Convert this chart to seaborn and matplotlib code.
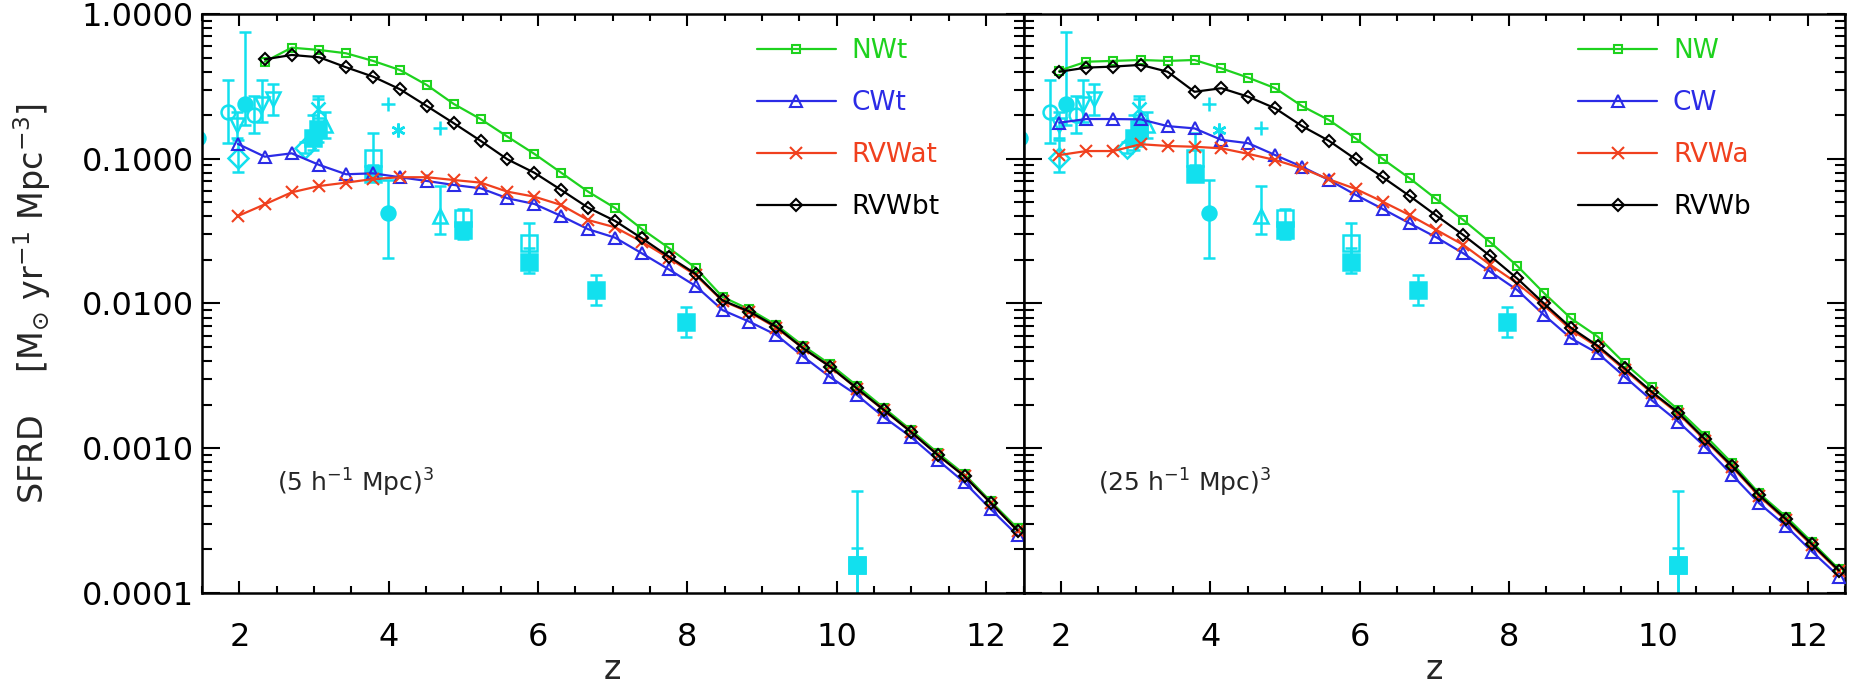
import numpy as np
import matplotlib
matplotlib.use("Agg")
import matplotlib.pyplot as plt
from matplotlib.ticker import MultipleLocator, LogLocator, FixedLocator, FuncFormatter, NullFormatter
import seaborn as sns

# simulation output redshifts
z_sim = [1.98, 2.34, 2.70, 3.07, 3.43, 3.79, 4.15, 4.51, 4.87, 5.23, 5.59, 5.95, 6.31, 6.67, 7.03,
         7.39, 7.75, 8.11, 8.47, 8.83, 9.19, 9.55, 9.91, 10.27, 10.63, 10.99, 11.35, 11.71, 12.06, 12.42]

# left panel, (5 h^-1 Mpc)^3 runs (NWt and RVWbt start at the 2nd output)
nwt = [0.468, 0.585, 0.564, 0.535, 0.474, 0.410, 0.323, 0.239, 0.188, 0.142, 0.108, 0.080, 0.0592,
       0.0457, 0.0327, 0.0242, 0.0176, 0.0111, 0.0091, 0.0071, 0.0051, 0.0038, 0.0027, 0.0019,
       0.00134, 0.00093, 0.00066, 0.00043, 0.00028]
cwt = [0.1265, 0.1033, 0.109, 0.0906, 0.0781, 0.0793, 0.0745, 0.0702, 0.0659, 0.0625, 0.0533, 0.0487,
       0.0402, 0.0326, 0.0285, 0.0222, 0.0172, 0.0132, 0.0090, 0.00748, 0.00606, 0.0043, 0.0031,
       0.00233, 0.00164, 0.0012, 0.00083, 0.00058, 0.00038, 0.00025]
rvwat = [0.0402, 0.0484, 0.0586, 0.0648, 0.0684, 0.0724, 0.0745, 0.0745, 0.0713, 0.0684, 0.0592, 0.0547,
         0.0479, 0.0377, 0.0336, 0.0267, 0.0206, 0.0157, 0.0104, 0.0087, 0.0068, 0.0049, 0.00365,
         0.00258, 0.00183, 0.0013, 0.0009, 0.00064, 0.00042, 0.00027]
rvwbt = [0.486, 0.521, 0.502, 0.428, 0.369, 0.302, 0.231, 0.176, 0.133, 0.099, 0.080, 0.0608, 0.0459,
         0.0372, 0.0282, 0.0211, 0.016, 0.0105, 0.0088, 0.0069, 0.0049, 0.00366, 0.00259, 0.00184,
         0.0013, 0.0009, 0.00064, 0.00042, 0.00027]

# right panel, (25 h^-1 Mpc)^3 runs
nw = [0.406, 0.468, 0.474, 0.481, 0.474, 0.481, 0.421, 0.363, 0.307, 0.231, 0.185, 0.138, 0.0996,
      0.0733, 0.0525, 0.0377, 0.0265, 0.0182, 0.0118, 0.0079, 0.0059, 0.00386, 0.00266, 0.00184,
      0.00122, 0.000787, 0.000488, 0.000337, 0.000224, 0.000146]
cw = [0.1775, 0.188, 0.188, 0.187, 0.168, 0.162, 0.135, 0.128, 0.106, 0.088, 0.0713, 0.0562, 0.045,
      0.0358, 0.0286, 0.0222, 0.0166, 0.0124, 0.00833, 0.00575, 0.00453, 0.00312, 0.00215, 0.00152,
      0.00102, 0.000653, 0.000417, 0.00029, 0.000193, 0.00013]
rvwa = [0.106, 0.113, 0.113, 0.126, 0.1225, 0.121, 0.118, 0.108, 0.098, 0.0859, 0.0721, 0.0618,
        0.0505, 0.0408, 0.0322, 0.0254, 0.0185, 0.0138, 0.0097, 0.0066, 0.0050, 0.00348, 0.00242,
        0.00173, 0.00113, 0.00074, 0.000467, 0.000318, 0.000213, 0.000141]
rvwb = [0.399, 0.426, 0.433, 0.445, 0.399, 0.290, 0.307, 0.268, 0.223, 0.168, 0.133, 0.099, 0.0745,
        0.0553, 0.0404, 0.0297, 0.0213, 0.0149, 0.0100, 0.0068, 0.0051, 0.00356, 0.00246, 0.00176,
        0.00115, 0.000754, 0.000475, 0.000324, 0.000217, 0.000143]

# observational estimates (same in both panels)
nan = np.nan
obs_z = [1.45, 1.85, 1.98, 1.97, 2.07, 2.20, 2.30, 2.45, 2.88, 2.98, 3.05, 3.05, 3.15, 3.79, 3.79,
         3.99, 3.99, 4.12, 4.68, 4.68, 5.00, 5.00, 5.88, 5.88, 6.78, 7.98, 10.27, 10.27]
obs_sfrd = [0.14, 0.21, 0.101, 0.17, 0.24, 0.20, 0.24, 0.26, 0.119, 0.14, 0.16, 0.22, 0.17, 0.101,
            0.078, 0.239, 0.042, 0.158, 0.163, 0.040, 0.039, 0.032, 0.026, 0.0194, 0.0124, 0.0075,
            0.000156, 0.000156]
obs_lo = [nan, 0.128, 0.081, 0.14, 0.17, 0.15, 0.18, 0.20, 0.11, 0.115, 0.13, 0.19, 0.14, 0.085,
          0.07, nan, 0.0205, nan, nan, 0.030, 0.034, 0.028, 0.021, 0.0163, 0.0098, 0.0059, 5e-5, 5e-5]
obs_hi = [nan, 0.35, 0.135, 0.21, 0.75, 0.27, 0.35, 0.33, 0.13, 0.20, 0.26, 0.27, 0.21, 0.15, 0.09,
          nan, 0.071, nan, nan, 0.065, 0.045, 0.036, 0.036, 0.024, 0.0158, 0.0095, 0.000503, 0.000204]
obs_marker = ['o', 'o', 'D', 'v', 'o', 'o', 'v', 'v', 'D', 's', 's', 'x', '^', 's', 's',
              '+', 'o', 'ast', '+', '^', 's', 's', 's', 's', 's', 's', 's', 's']
obs_filled = [1, 0, 0, 0, 1, 0, 0, 0, 0, 1, 1, 1, 0, 0, 1, 1, 1, 1, 1, 0, 0, 1, 0, 1, 1, 1, 1, 1]

GREEN = '#1ed21e'
BLUE = '#2b2be6'
RED = '#f0401e'
CYAN = '#12e0ee'

sns.set_style("ticks")
plt.rcParams['font.family'] = ['DejaVu Sans']
plt.rcParams['mathtext.default'] = 'regular'

fig, axes = plt.subplots(1, 2, figsize=(18.52, 6.85), dpi=100, sharey=True)
fig.subplots_adjust(left=0.1091, right=0.9962, bottom=0.1343, top=0.9796, wspace=0)

panels = [
    (axes[0], [(nwt, 'NWt', GREEN, 's'), (cwt, 'CWt', BLUE, '^'),
               (rvwat, 'RVWat', RED, 'x'), (rvwbt, 'RVWbt', 'black', 'D')],
     r'(5 h$^{-1}$ Mpc)$^3$'),
    (axes[1], [(nw, 'NW', GREEN, 's'), (cw, 'CW', BLUE, '^'),
               (rvwa, 'RVWa', RED, 'x'), (rvwb, 'RVWb', 'black', 'D')],
     r'(25 h$^{-1}$ Mpc)$^3$'),
]

msizes = {'s': 6, '^': 8.5, 'x': 8.5, 'D': 6.5}

for ax, series, box in panels:
    # observations
    for z, v, lo, hi, m, f in zip(obs_z, obs_sfrd, obs_lo, obs_hi, obs_marker, obs_filled):
        mk = (6, 2, 0) if m == 'ast' else m
        ms = 11 if m == 's' else 10
        yerr = None if np.isnan(lo) else [[v - lo], [hi - v]]
        ax.errorbar([z], [v], yerr=yerr, fmt='none', ecolor=CYAN, elinewidth=1.8,
                    capsize=4.5, capthick=1.8, zorder=2)
        ax.plot([z], [v], linestyle='none', marker=mk, ms=ms, mec=CYAN,
                mfc=CYAN if f else 'none', mew=1.8, zorder=2)
    # simulations
    for vals, lab, col, mk in series:
        zz = z_sim[-len(vals):]
        sns.lineplot(x=zz, y=vals, ax=ax, color=col, marker=mk, markersize=msizes[mk],
                     mfc='none', mec=col, mew=1.5, lw=1.6, label=lab, estimator=None,
                     sort=False, zorder=3)

    ax.set_yscale('log')
    ax.set_xlim(1.5, 12.5)
    ax.set_ylim(1e-4, 1.0)
    ax.xaxis.set_major_locator(MultipleLocator(2))
    ax.xaxis.set_minor_locator(MultipleLocator(0.5))
    ax.yaxis.set_major_locator(FixedLocator([1e-4, 1e-3, 1e-2, 1e-1, 1.0]))
    ax.yaxis.set_minor_locator(LogLocator(base=10, subs=np.arange(2, 10), numticks=20))
    ax.yaxis.set_major_formatter(FuncFormatter(lambda v, p: '%.4f' % v))
    ax.yaxis.set_minor_formatter(NullFormatter())
    ax.tick_params(axis='both', which='both', direction='in', top=True, right=True,
                   width=1.5, colors='black')
    ax.tick_params(axis='y', which='major', length=13, pad=6, labelsize=23)
    ax.tick_params(axis='y', which='minor', length=7)
    ax.tick_params(axis='x', which='major', length=8.5, pad=21, labelsize=23)
    ax.tick_params(axis='x', which='minor', length=5)
    for sp in ax.spines.values():
        sp.set_linewidth(1.8)
        sp.set_color('black')
    ax.set_xlabel('z', fontsize=24, labelpad=0)
    ax.text(2.5, 5.8e-4, box, fontsize=18, ha='left', va='center')
    ax.legend(loc='upper left', bbox_to_anchor=(0.675, 0.958), frameon=False, fontsize=19,
              handlelength=3.0, handletextpad=0.6, labelspacing=0.98, labelcolor='linecolor',
              borderaxespad=0, borderpad=0, numpoints=1)

axes[1].tick_params(axis='y', which='both', labelleft=False)
axes[0].set_ylabel(r'SFRD    [M$_{\odot}$ yr$^{-1}$ Mpc$^{-3}$]', fontsize=24)
axes[0].yaxis.set_label_coords(-0.181, 0.5)

fig.savefig('out.png', dpi=100)
